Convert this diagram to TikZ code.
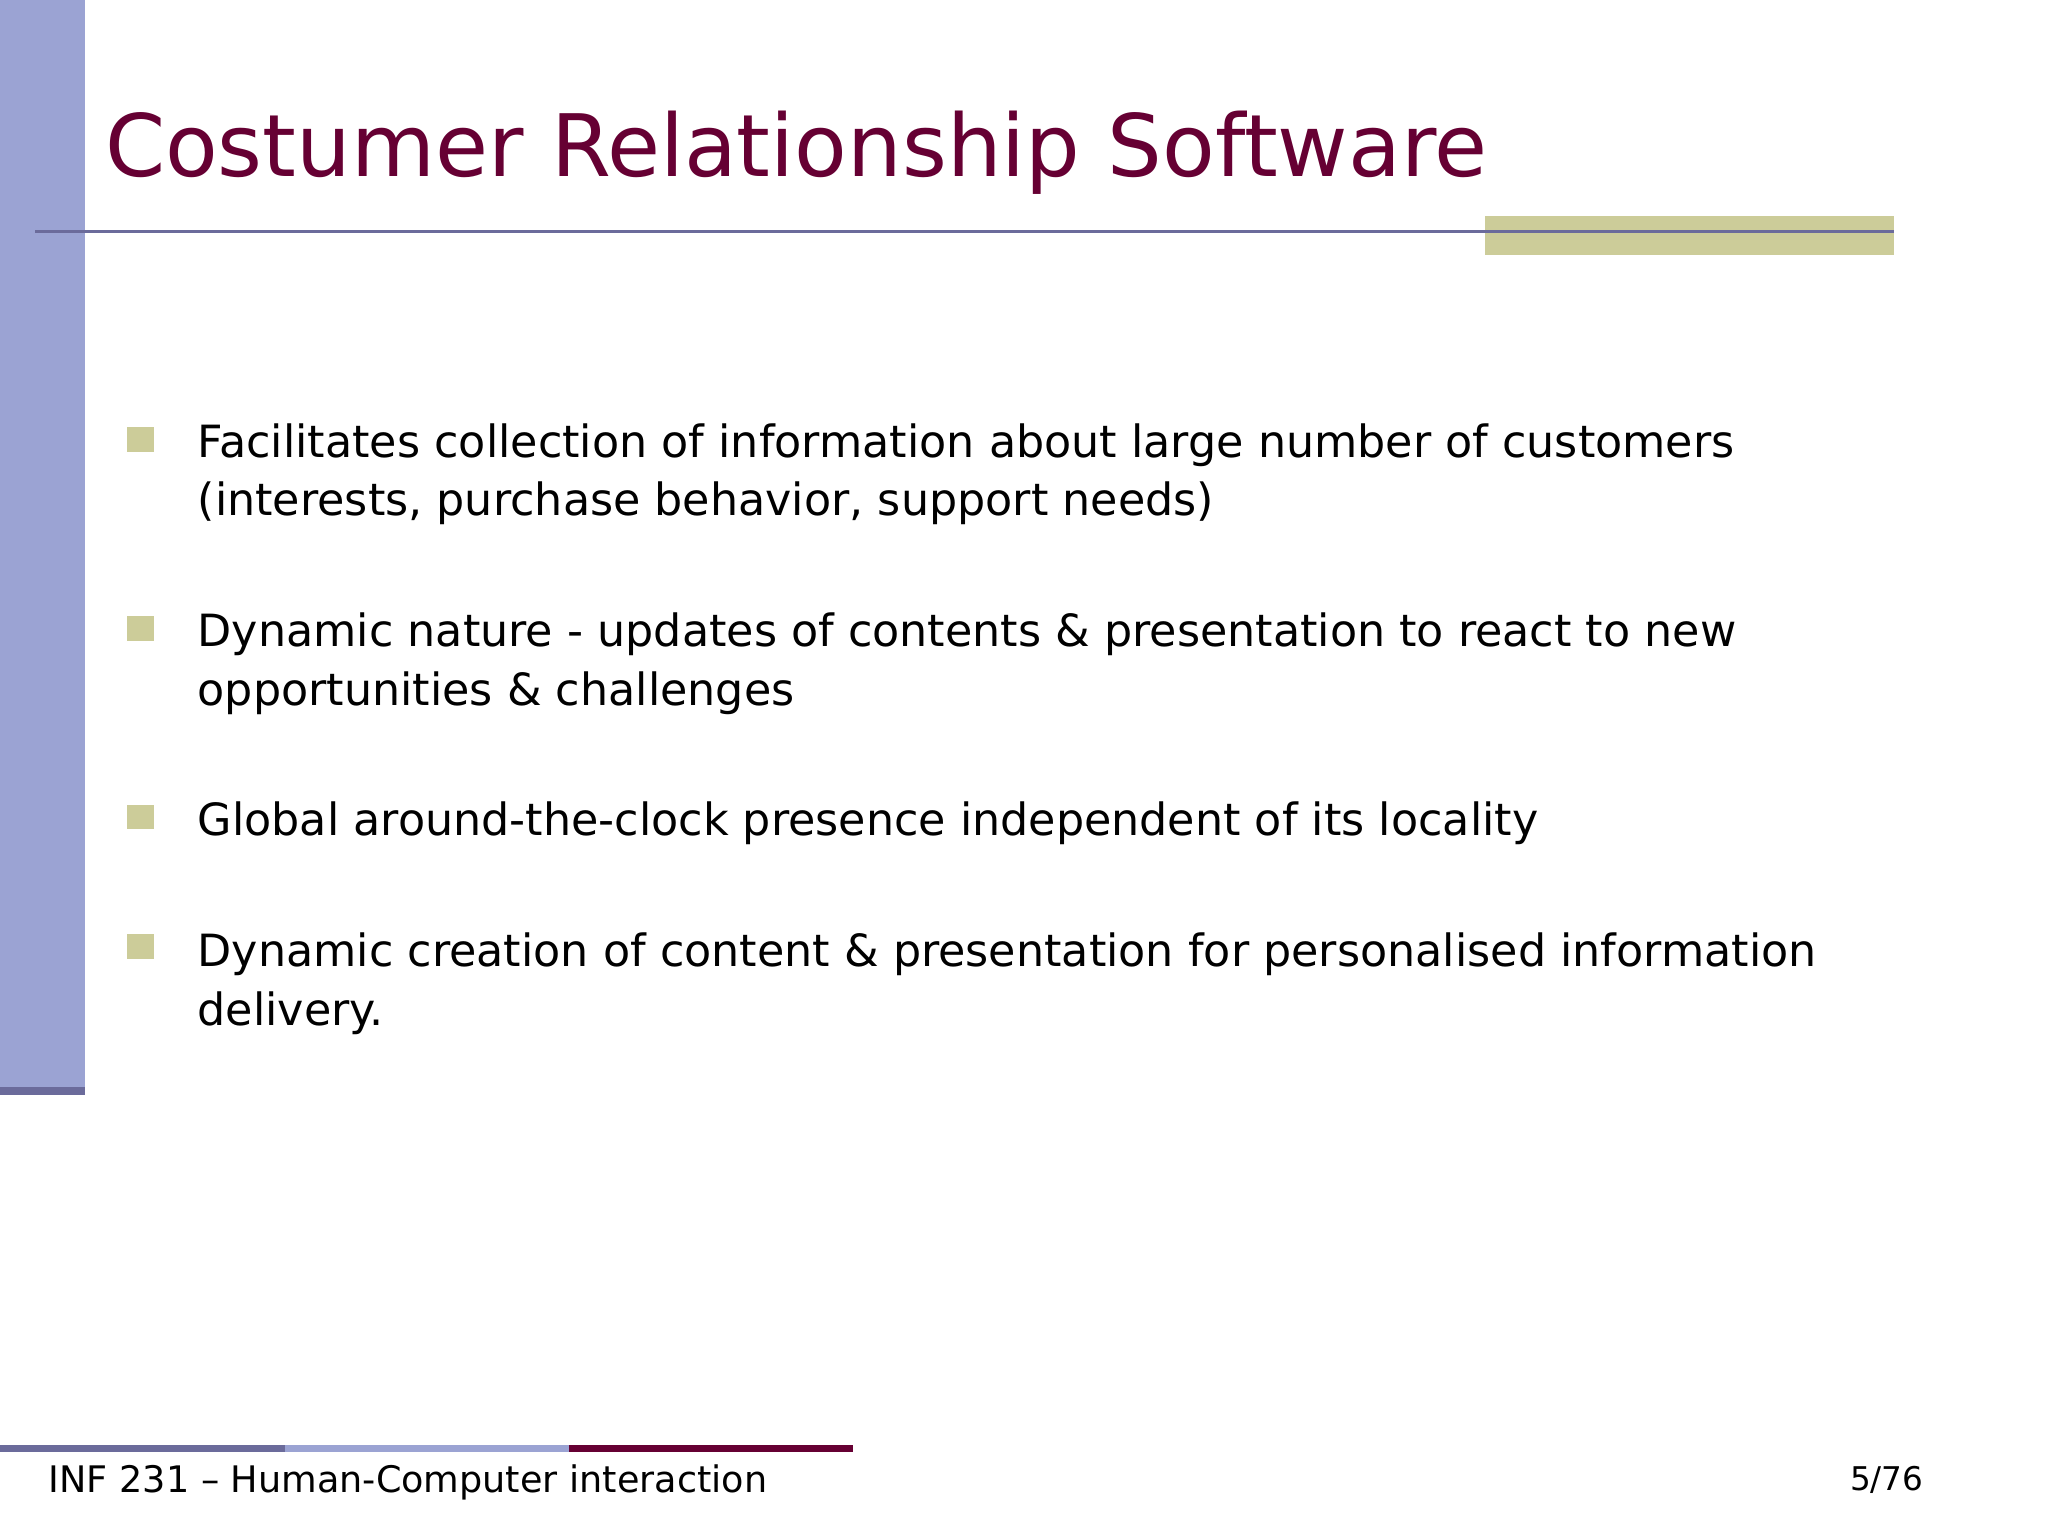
\documentclass[tikz,border=0pt]{standalone}
\usepackage{fontspec}
\setmainfont{DejaVu Sans}
\definecolor{barblue}{HTML}{9BA3D3}
\definecolor{darkblue}{HTML}{6B6B9B}
\definecolor{olive}{HTML}{CCCC99}
\definecolor{wine}{HTML}{660033}
\tikzset{body/.style={anchor=base west,inner sep=0pt,font=\fontsize{17}{20}\selectfont},
bul/.style={fill=olive,draw=none}}
\begin{document}
\begin{tikzpicture}[x=0.5pt,y=-0.5pt]
\useasboundingbox (0,0) rectangle (1568,1176);
\fill[white] (0,0) rectangle (1568,1176);
\fill[barblue] (0,0) rectangle (65,838);
\fill[darkblue] (0,832) rectangle (65,838);
\fill[olive] (1137,165) rectangle (1450,195);
\draw[darkblue,line width=1.2pt] (27,177) -- (1450,177);
\node[anchor=base west,inner sep=0pt,text=wine,font=\fontsize{33}{38}\selectfont] (title) at (80,135) {Costumer Relationship Software};
\foreach \y in {327,472,616,715} \fill[bul] (97,\y) rectangle (118,\y+19);
\node[body] (b1a) at (151,350) {Facilitates collection of information about large number of customers};
\node[body] (b1b) at (151,395) {(interests, purchase behavior, support needs)};
\node[body] (b2a) at (151,495) {Dynamic nature - updates of contents \& presentation to react to new};
\node[body] (b2b) at (151,540) {opportunities \& challenges};
\node[body] (b3) at (151,640) {Global around-the-clock presence independent of its locality};
\node[body] (b4a) at (151,740) {Dynamic creation of content \& presentation for personalised information};
\node[body] (b4b) at (151,785) {delivery.};
\fill[darkblue] (0,1106) rectangle (218,1112);
\fill[barblue] (218,1106) rectangle (436,1112);
\fill[wine] (436,1106) rectangle (653,1112);
\node[anchor=base west,inner sep=0pt,font=\fontsize{14}{16}\selectfont] (foot) at (37,1143) {INF 231 – Human-Computer interaction};
\node[anchor=base east,inner sep=0pt,font=\fontsize{12.5}{15}\selectfont] (page) at (1473,1141) {5/76};
\end{tikzpicture}
\end{document}
